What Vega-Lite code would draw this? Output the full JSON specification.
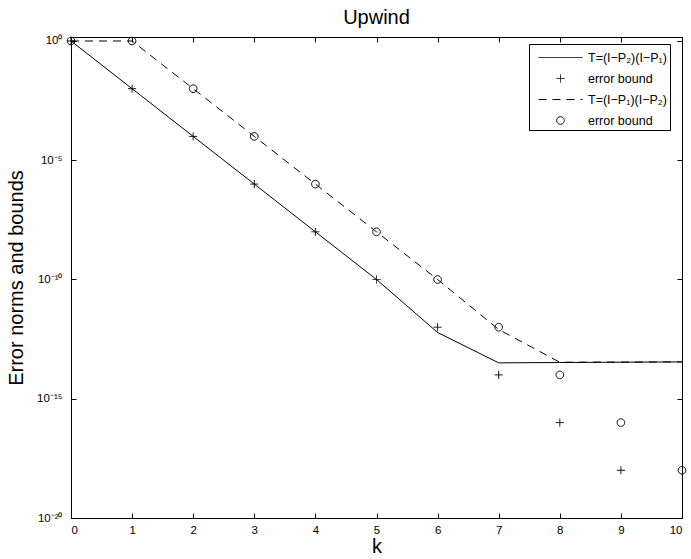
{
  "$schema": "https://vega.github.io/schema/vega-lite/v6.json",
  "width": 611,
  "height": 481,
  "autosize": {"type": "none"},
  "padding": {"left": 71, "top": 37, "right": 9, "bottom": 41},
  "background": "white",
  "title": {"text": "Upwind", "font": "Liberation Sans", "fontSize": 20, "fontWeight": "normal", "color": "black", "offset": 7},
  "config": {
    "view": {"stroke": "black", "strokeWidth": 1},
    "axis": {
      "grid": false,
      "domainColor": "black",
      "domainWidth": 1,
      "tickColor": "black",
      "tickWidth": 1,
      "tickSize": -5,
      "labelColor": "black",
      "labelFont": "Liberation Sans",
      "labelFontSize": 11.5,
      "titleFont": "Liberation Sans",
      "titleFontWeight": "normal",
      "titleColor": "black",
      "titleFontSize": 20
    }
  },
  "data": {
    "values": [
      {"k": 0, "v": 1, "series": "A"},
      {"k": 1, "v": 1e-2, "series": "A"},
      {"k": 2, "v": 1e-4, "series": "A"},
      {"k": 3, "v": 1e-6, "series": "A"},
      {"k": 4, "v": 1e-8, "series": "A"},
      {"k": 5, "v": 1e-10, "series": "A"},
      {"k": 6, "v": 6e-13, "series": "A"},
      {"k": 7, "v": 3.2e-14, "series": "A"},
      {"k": 8, "v": 3.3e-14, "series": "A"},
      {"k": 9, "v": 3.4e-14, "series": "A"},
      {"k": 10, "v": 3.5e-14, "series": "A"},
      {"k": 0, "v": 1, "series": "C"},
      {"k": 1, "v": 1, "series": "C"},
      {"k": 2, "v": 1e-2, "series": "C"},
      {"k": 3, "v": 1e-4, "series": "C"},
      {"k": 4, "v": 1e-6, "series": "C"},
      {"k": 5, "v": 1e-8, "series": "C"},
      {"k": 6, "v": 1e-10, "series": "C"},
      {"k": 7, "v": 8e-13, "series": "C"},
      {"k": 8, "v": 3.4e-14, "series": "C"},
      {"k": 9, "v": 3.45e-14, "series": "C"},
      {"k": 10, "v": 3.5e-14, "series": "C"},
      {"k": 0, "v": 1, "series": "B"},
      {"k": 1, "v": 1e-2, "series": "B"},
      {"k": 2, "v": 1e-4, "series": "B"},
      {"k": 3, "v": 1e-6, "series": "B"},
      {"k": 4, "v": 1e-8, "series": "B"},
      {"k": 5, "v": 1e-10, "series": "B"},
      {"k": 6, "v": 1e-12, "series": "B"},
      {"k": 7, "v": 1e-14, "series": "B"},
      {"k": 8, "v": 1e-16, "series": "B"},
      {"k": 9, "v": 1e-18, "series": "B"},
      {"k": 0, "v": 1, "series": "D"},
      {"k": 1, "v": 1, "series": "D"},
      {"k": 2, "v": 1e-2, "series": "D"},
      {"k": 3, "v": 1e-4, "series": "D"},
      {"k": 4, "v": 1e-6, "series": "D"},
      {"k": 5, "v": 1e-8, "series": "D"},
      {"k": 6, "v": 1e-10, "series": "D"},
      {"k": 7, "v": 1e-12, "series": "D"},
      {"k": 8, "v": 1e-14, "series": "D"},
      {"k": 9, "v": 1e-16, "series": "D"},
      {"k": 10, "v": 1e-18, "series": "D"}
    ]
  },
  "layer": [
    {
      "transform": [{"filter": "datum.series == 'A'"}],
      "mark": {"type": "line", "color": "black", "strokeWidth": 1, "clip": false},
      "encoding": {
        "x": {
          "field": "k", "type": "quantitative",
          "scale": {"domain": [0, 10], "nice": false, "zero": false},
          "axis": {"orient": "bottom", "values": [0, 1, 2, 3, 4, 5, 6, 7, 8, 9, 10], "title": "k", "titleFontWeight": "normal", "labelPadding": 11, "titlePadding": 1, "format": "d"}
        },
        "y": {
          "field": "v", "type": "quantitative",
          "scale": {"type": "log", "domain": [1e-20, 1.47], "nice": false},
          "axis": {
            "orient": "left",
            "values": [1e-20, 1e-15, 1e-10, 1e-5, 1],
            "labelExpr": "datum.value >= 0.5 ? '10⁰' : datum.value > 1e-6 ? '10⁻⁵' : datum.value > 1e-11 ? '10⁻¹⁰' : datum.value > 1e-16 ? '10⁻¹⁵' : '10⁻²⁰'",
            "title": "Error norms and bounds",
            "titleFontWeight": "normal",
            "labelPadding": 14,
            "titlePadding": 10
          }
        }
      }
    },
    {
      "transform": [{"filter": "datum.series == 'C'"}],
      "mark": {"type": "line", "color": "black", "strokeWidth": 1, "strokeDash": [8, 6], "clip": false},
      "encoding": {
        "x": {"field": "k", "type": "quantitative", "axis": null},
        "y": {"field": "v", "type": "quantitative", "axis": null}
      }
    },
    {
      "transform": [{"filter": "datum.series == 'B' || datum.series == 'D'"}],
      "mark": {"type": "point", "filled": false, "color": "black", "strokeWidth": 1, "size": 400, "opacity": 1, "clip": false},
      "encoding": {
        "x": {
          "field": "k", "type": "quantitative",
          "axis": {"orient": "top", "labels": false, "title": null, "values": [0, 1, 2, 3, 4, 5, 6, 7, 8, 9, 10]}
        },
        "y": {
          "field": "v", "type": "quantitative",
          "axis": {"orient": "right", "labels": false, "title": null, "values": [1e-20, 1e-15, 1e-10, 1e-5, 1]}
        },
        "shape": {
          "field": "series", "type": "nominal",
          "scale": {
            "domain": ["A", "B", "C", "D"],
            "range": [
              "M-2.2,0H2.2",
              "M-0.4,0H0.4M0,-0.4V0.4",
              "M-2.2,0H2.2",
              "M0.38,0A0.38,0.38,0,1,1,-0.38,0A0.38,0.38,0,1,1,0.38,0Z"
            ]
          },
          "legend": {
            "title": null,
            "orient": "none",
            "legendX": 458,
            "legendY": 7,
            "padding": 3,
            "strokeColor": "black",
            "fillColor": "white",
            "labelFont": "Liberation Sans",
            "labelFontSize": 12.5,
            "labelColor": "black",
            "symbolOffset": 18,
            "labelOffset": 17,
            "symbolSize": 400,
            "symbolStrokeColor": "black",
            "symbolStrokeWidth": 1,
            "symbolFillColor": "transparent",
            "rowPadding": 4,
            "labelExpr": "datum.value == 'A' ? 'T=(I−P₂)(I−P₁)' : datum.value == 'C' ? 'T=(I−P₁)(I−P₂)' : 'error bound'"
          }
        },
        "strokeDash": {
          "field": "series", "type": "nominal",
          "scale": {"domain": ["A", "B", "C", "D"], "range": [[1, 0], [1, 0], [8, 6], [1, 0]]},
          "legend": {
            "title": null,
            "orient": "none",
            "legendX": 458,
            "legendY": 7,
            "padding": 3,
            "strokeColor": "black",
            "fillColor": "white",
            "labelFont": "Liberation Sans",
            "labelFontSize": 12.5,
            "labelColor": "black",
            "symbolOffset": 18,
            "labelOffset": 17,
            "symbolSize": 400,
            "symbolStrokeColor": "black",
            "symbolStrokeWidth": 1,
            "symbolFillColor": "transparent",
            "rowPadding": 4,
            "labelExpr": "datum.value == 'A' ? 'T=(I−P₂)(I−P₁)' : datum.value == 'C' ? 'T=(I−P₁)(I−P₂)' : 'error bound'"
          }
        }
      }
    }
  ]
}
